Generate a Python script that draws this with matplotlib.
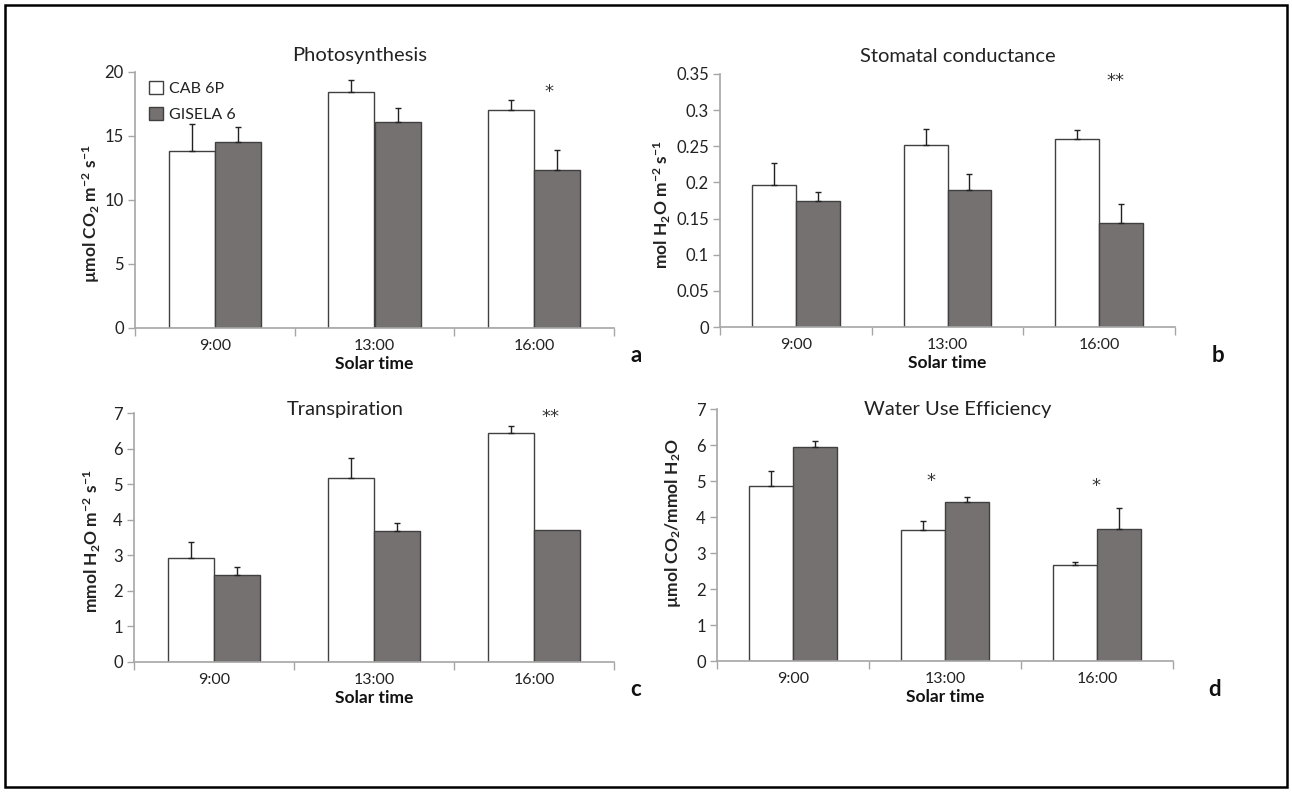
import matplotlib
matplotlib.use("Agg")
import matplotlib.pyplot as plt
from matplotlib.patches import Rectangle
import numpy as np

# ---------------- data ----------------
times = ["9:00", "13:00", "16:00"]
series = ["CAB 6P", "GISELA 6"]

photo_cab = [13.8, 18.4, 17.05]
photo_cab_err = [2.1, 1.0, 0.8]
photo_gis = [14.5, 16.1, 12.35]
photo_gis_err = [1.2, 1.1, 1.55]

cond_cab = [0.197, 0.252, 0.260]
cond_cab_err = [0.030, 0.022, 0.013]
cond_gis = [0.174, 0.189, 0.144]
cond_gis_err = [0.013, 0.022, 0.026]

trans_cab = [2.93, 5.16, 6.44]
trans_cab_err = [0.45, 0.58, 0.20]
trans_gis = [2.44, 3.68, 3.72]
trans_gis_err = [0.24, 0.22, 0.0]

wue_cab = [4.86, 3.64, 2.66]
wue_cab_err = [0.43, 0.25, 0.10]
wue_gis = [5.95, 4.42, 3.68]
wue_gis_err = [0.15, 0.13, 0.57]

titles = ["Photosynthesis", "Stomatal conductance", "Transpiration", "Water Use Efficiency"]
ylabels = ["µmol CO$_2$ m$^{-2}$ s$^{-1}$",
           "mol H$_2$O m$^{-2}$ s$^{-1}$",
           "mmol H$_2$O m$^{-2}$ s$^{-1}$",
           "µmol CO$_2$/mmol H$_2$O"]
ylims = [(0, 20), (0, 0.35), (0, 7), (0, 7)]
ysteps = [5, 0.05, 1, 1]
panel_letters = ["a", "b", "c", "d"]
xlabel = "Solar time"

# significance marks: (panel, category index, text, value)
sig_marks = [(0, 2, "*", 18.4), (1, 2, "**", 0.341), (2, 2, "**", 6.9),
             (3, 1, "*", 5.0), (3, 2, "*", 4.85)]
sig_dx = {(0, 2): 0.09, (1, 2): 0.11, (2, 2): 0.1, (3, 1): -0.09, (3, 2): -0.01}

# ---------------- style ----------------
plt.rcParams['font.family'] = ['Lato', 'DejaVu Sans']
plt.rcParams['mathtext.fontset'] = 'custom'
plt.rcParams['mathtext.rm'] = 'Lato:bold'
plt.rcParams['mathtext.it'] = 'Lato:bold'
plt.rcParams['mathtext.bf'] = 'Lato:bold'
plt.rcParams['mathtext.default'] = 'bf'

W, H = 1292, 792
fig = plt.figure(figsize=(W / 100, H / 100), dpi=100)


def fx(x):
    return x / W


def fy(y):
    return 1 - y / H


SPINE = "#a6a6a6"
EDGE = "#404040"
GREY = "#767171"

# axes rectangles in pixels: left, top, right, bottom
rects = [(135, 72, 614, 328), (720, 74, 1175, 327),
         (134, 413, 614, 662), (717, 409, 1173, 661)]
title_pos = [(360, 56), (958, 56), (345, 410), (958, 410)]
ylabel_pos = [(91, 214), (662, 205), (92, 541), (673, 523)]
letter_pos = [(636, 356), (1218, 355), (636, 690), (1215, 690)]

data = [(photo_cab, photo_cab_err, photo_gis, photo_gis_err),
        (cond_cab, cond_cab_err, cond_gis, cond_gis_err),
        (trans_cab, trans_cab_err, trans_gis, trans_gis_err),
        (wue_cab, wue_cab_err, wue_gis, wue_gis_err)]

w = 0.29
x = np.arange(len(times))
axes = []


def draw_err(ax, xs, ys, es):
    xs = np.asarray(xs); ys = np.asarray(ys); es = np.asarray(es)
    m = es > 0
    ax.errorbar(xs[m], ys[m], yerr=[np.zeros(m.sum()), es[m]], fmt="none",
                ecolor="#222222", elinewidth=1.0, capsize=2, capthick=1.0, zorder=3)


for i, (l, t, r, b) in enumerate(rects):
    ax = fig.add_axes([fx(l), fy(b), fx(r) - fx(l), fy(t) - fy(b)])
    axes.append(ax)
    cab, cab_e, gis, gis_e = data[i]
    ax.bar(x - w / 2, cab, w, color="white", edgecolor=EDGE, linewidth=1.0,
           label=series[0], zorder=2)
    ax.bar(x + w / 2, gis, w, color=GREY, edgecolor=EDGE, linewidth=1.0,
           label=series[1], zorder=2)
    draw_err(ax, x - w / 2, cab, cab_e)
    draw_err(ax, x + w / 2, gis, gis_e)
    ax.set_xlim(-0.5, len(times) - 0.5)
    lo, hi = ylims[i]
    ax.set_ylim(lo, hi)
    yt = np.arange(lo, hi + ysteps[i] / 2, ysteps[i])
    ax.set_yticks(yt)
    ax.set_yticklabels(["{:g}".format(round(v, 3)) for v in yt])
    ax.set_xticks(np.arange(-0.5, len(times), 1.0))
    ax.set_xticklabels([])
    ax.set_xticks(x, minor=True)
    ax.set_xticklabels(times, minor=True)
    ax.tick_params(axis="x", which="major", length=6, color=SPINE, width=1)
    ax.tick_params(axis="x", which="minor", length=0, pad=8, labelsize=11.5,
                   labelcolor="#222222")
    ax.tick_params(axis="y", length=5, color=SPINE, width=1, pad=3, labelsize=12,
                   labelcolor="#222222")
    for s in ["top", "right"]:
        ax.spines[s].set_visible(False)
    for s in ["left", "bottom"]:
        ax.spines[s].set_color(SPINE)
        ax.spines[s].set_linewidth(1.2)
    ax.set_zorder(1)

    fig.text(fx(title_pos[i][0]), fy(title_pos[i][1]), titles[i], ha="center",
             va="center", fontsize=14.5, color="#222222")
    fig.text(fx(ylabel_pos[i][0]), fy(ylabel_pos[i][1]), ylabels[i], rotation=90,
             ha="center", va="center", fontsize=12.5, fontweight="bold", color="#222222")
    fig.text(fx((l + r) / 2), fy(b + 36), xlabel, ha="center", va="center",
             fontsize=12.5, fontweight="bold", color="#111111")
    fig.text(fx(letter_pos[i][0]), fy(letter_pos[i][1]), panel_letters[i],
             ha="center", va="center", fontsize=16, fontweight="bold", color="#111111")

for (pi, ci, txt, val) in sig_marks:
    axes[pi].text(ci + sig_dx[(pi, ci)], val, txt, ha="center", va="center",
                  fontsize=13, color="#333333", family="DejaVu Sans")

leg = axes[0].legend(loc="upper left", bbox_to_anchor=(0.005, 1.01), frameon=False,
                     fontsize=11.5, handlelength=0.9, handleheight=0.9,
                     handletextpad=0.35, labelspacing=0.7, borderpad=0.2)
for txt in leg.get_texts():
    txt.set_color("#222222")

# outer frame
fig.add_artist(Rectangle((fx(5), fy(787)), fx(1287) - fx(5), fy(5) - fy(787),
                         transform=fig.transFigure, fill=False, edgecolor="black",
                         linewidth=1.8))

fig.savefig("out.png", dpi=100, facecolor="white")
